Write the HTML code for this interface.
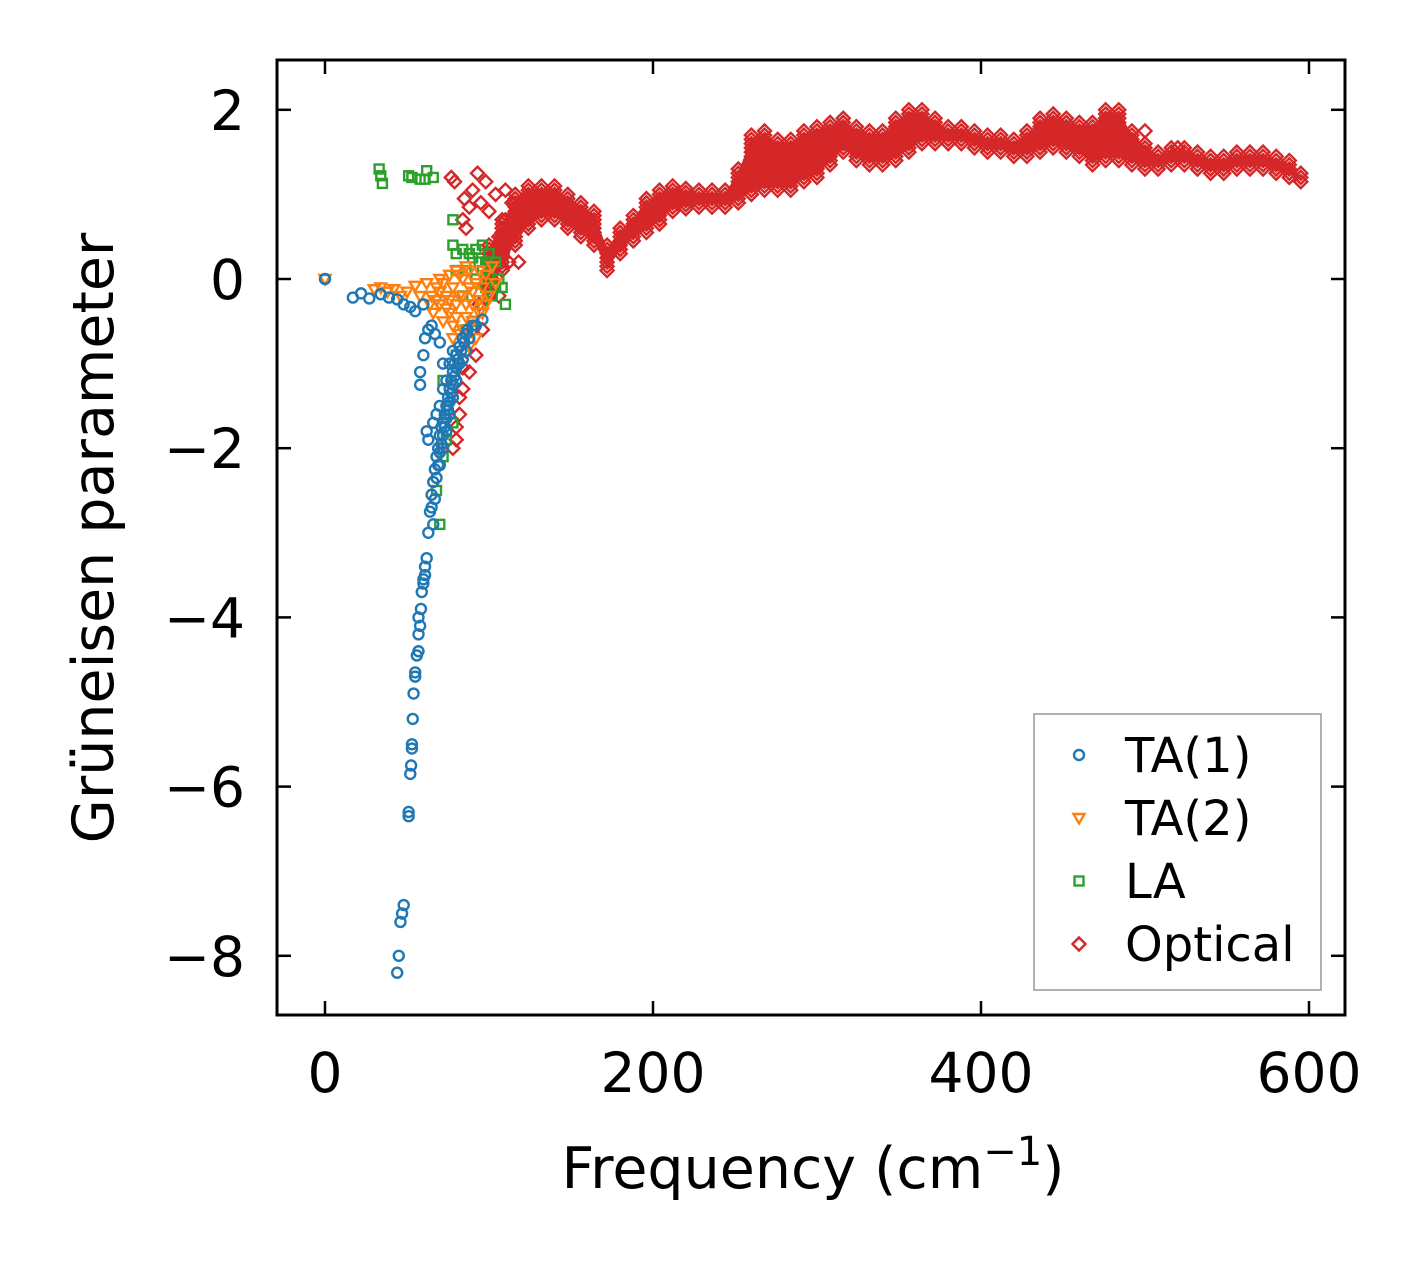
<!DOCTYPE html>
<html><head><meta charset="utf-8"><style>
html,body{margin:0;padding:0;background:#fff;}
svg{display:block;font-family:"DejaVu Sans","Liberation Sans",sans-serif;}
</style></head><body>
<svg id="chart" width="1424" height="1264" viewBox="0 0 1424 1264" xmlns="http://www.w3.org/2000/svg">
<g id="marks"></g>
<g id="axes"></g>
</svg>
<script>
// ---- data ----
const xTicks = [0, 200, 400, 600];
const yTicks = [2, 0, -2, -4, -6, -8];
const ta1 = [[0,0],[17,-0.22],[22,-0.17],[27,-0.23],[34,-0.18],[39,-0.22],[44,-0.24],[48,-0.3],[52,-0.33],[55,-0.38],[60,-0.3],
[44,-8.2],[45,-8.0],[46,-7.6],[47,-7.5],[48,-7.4],[51,-6.35],[52,-5.85],[52.5,-5.75],[53,-5.5],[53.5,-5.2],[54,-4.9],[55,-4.7],[56,-4.45],[57,-4.4],[58,-4.1],[58.5,-3.9],[59,-3.7],[60,-3.55],[61,-3.4],[62,-3.3],[63,-3.0],[64,-2.75],[65,-2.55],[66,-2.4],[67,-2.25],[68,-2.1],[69,-2.0],[70,-1.85],[71,-1.75],[72,-1.7],[73,-1.6],[74,-1.5],[75,-1.4],[76,-1.3],[77,-1.2],[78,-1.1],[79,-1.0],[80,-0.9],[82,-0.8],[84,-0.7],[86,-0.65],[88,-0.7],[92,-0.55],[96,-0.48],
[58,-1.1],[58,-1.25],[60,-0.9],[61,-0.7],[63,-0.6],[65,-0.55],[67,-0.65],[70,-0.75],[72,-1.0],[62,-1.8],[63,-1.9],[66,-1.7],[68,-1.6],[70,-1.5],[72,-1.3],[74,-1.2],[76,-1.0],[78,-0.85],[80,-1.2],[82,-1.0],[76,-1.6],[74,-1.8],[72,-2.0],[70,-2.2],[78,-1.4],[84,-0.95],[86,-0.85],
[65,-2.7],[66,-2.9],[67,-2.6],[68,-2.35],[69,-2.2],[70,-2.05],[71,-1.95],[72,-1.85],[73,-1.75],[74,-1.65],[75,-1.55],[76,-1.45],[77,-1.35],[78,-1.25],[79,-1.15],[80,-1.05],[81,-0.95],[83,-0.85],[85,-0.75],[87,-0.6],[90,-0.55],[60,-3.6],[61,-3.5],[57,-4.2],[57,-4.0],[55,-4.65],[53,-5.55],[51,-6.3]];
const ta2 = [[0,0],[30,-0.12],[34,-0.1],[38,-0.15],[42,-0.12],[46,-0.2],[50,-0.15],[55,-0.08],[58,-0.2],[62,-0.05],[65,-0.2],[68,-0.1],[70,-0.3],[72,-0.05],[74,-0.2],[76,-0.4],[78,-0.1],[80,-0.3],[82,0.05],[84,-0.2],[86,-0.45],[88,-0.1],[88,0.1],[90,-0.3],[92,-0.05],[94,-0.25],[96,-0.1],[98,0.05],[100,-0.2],[102,0.15],[104,-0.05],[66,-0.4],[72,-0.5],[78,-0.55],[84,-0.6],[90,-0.5],[96,-0.4],[80,0.1],[86,0.15],[94,0.1],[70,0.0],[76,0.05],[92,-0.7],[88,-0.8],
[64,-0.3],[68,-0.25],[74,-0.35],[80,-0.45],[82,-0.2],[86,-0.3],[90,-0.15],[94,-0.4],[98,-0.3],[70,-0.15],[76,-0.25],[84,0.0],[78,-0.7],[82,-0.65]];
const la = [[33,1.3],[34,1.22],[35,1.13],[51,1.22],[53,1.2],[58,1.18],[61,1.18],[62,1.28],[66,1.2],[78,0.7],[78,0.4],[80,0.3],[84,0.35],[88,0.3],[92,0.35],[96,0.4],[100,0.3],[104,0.2],[106,0.0],[108,-0.1],[110,-0.3],[98,-0.1],[102,-0.2],[80,0.1],[86,0.1],[94,0.2],[100,0.05],[96,-0.3],[90,-0.5],[86,-0.6],[80,-0.9],[72,-1.2],[75,-1.5],[72,-2.1],[68,-2.5],[70,-2.9],[74,-1.9],[78,-1.7],
[98,0.2],[100,0.15],[96,0.1],[92,0.0],[104,-0.1],[90,0.25],[84,-0.2]];
// rows: frequency, lower, centre, upper of the optical band
const optBand = [[100,-0.2,0.1,0.4],[108,0.1,0.4,0.7],[116,0.4,0.7,1.0],[124,0.6,0.85,1.1],[132,0.7,0.9,1.1],[140,0.7,0.9,1.1],[148,0.6,0.8,1.0],[156,0.5,0.7,0.9],[164,0.4,0.6,0.8],[172,0.1,0.25,0.4],[180,0.3,0.45,0.6],[188,0.45,0.6,0.75],[196,0.55,0.75,0.95],[204,0.65,0.85,1.05],[212,0.8,0.95,1.1],[220,0.83,0.95,1.07],[228,0.85,0.95,1.05],[236,0.85,0.95,1.05],[244,0.85,0.95,1.05],[252,0.9,1.1,1.3],[260,1.0,1.35,1.7],[268,1.05,1.4,1.75],[276,1.05,1.35,1.65],[284,1.05,1.35,1.65],[292,1.15,1.45,1.75],[300,1.2,1.5,1.8],[308,1.35,1.6,1.85],[316,1.5,1.7,1.9],[324,1.4,1.6,1.8],[332,1.35,1.55,1.75],[340,1.35,1.55,1.75],[348,1.4,1.65,1.9],[356,1.5,1.75,2.0],[364,1.6,1.8,2.0],[372,1.6,1.75,1.9],[380,1.6,1.7,1.8],[388,1.6,1.7,1.8],[396,1.55,1.65,1.75],[404,1.5,1.6,1.7],[412,1.5,1.6,1.7],[420,1.45,1.55,1.65],[428,1.45,1.6,1.75],[436,1.5,1.7,1.9],[444,1.55,1.75,1.95],[452,1.5,1.7,1.9],[460,1.45,1.65,1.85],[468,1.35,1.6,1.85],[476,1.4,1.7,2.0],[484,1.4,1.7,2.0],[492,1.35,1.55,1.75],[500,1.3,1.45,1.6],[508,1.3,1.4,1.5],[516,1.35,1.45,1.55],[524,1.35,1.45,1.55],[532,1.3,1.4,1.5],[540,1.25,1.35,1.45],[548,1.25,1.35,1.45],[556,1.3,1.4,1.5],[564,1.3,1.4,1.5],[572,1.3,1.4,1.5],[580,1.25,1.35,1.45],[588,1.2,1.3,1.4],[595,1.15,1.2,1.25]];
const optExtra = [[77,1.2],[79,1.15],[85,0.95],[88,0.85],[90,1.05],[93,1.25],[95,0.9],[98,1.15],[100,0.8],[86,0.6],[84,0.7],[104,1.0],[110,1.05],[103,0.3],[96,-0.6],[92,-0.9],[88,-1.1],[84,-1.3],[82,-1.6],[80,-1.9],[78,-2.0],[106,-0.2],[112,0.2],[118,0.2],[500,1.75],[520,1.55],
[94,-0.3],[98,-0.1],[90,-0.6],[86,-0.85],[84,-1.05],[82,-1.4],[80,-1.75],[102,0.0],[106,0.5],[110,0.7],[114,0.9]];
const legendLabels = ['TA(1)','TA(2)','LA','Optical'];
// ---- layout ----
const L=277,R=1345,T=60,B=1015;
const x = v => 325 + v*1.64;
const y = v => 279 - v*84.6;
const NS='http://www.w3.org/2000/svg';
const marks=document.getElementById('marks'), axes=document.getElementById('axes');
function mk(tag,parent,attrs){const e=document.createElementNS(NS,tag);for(const k in attrs)e.setAttribute(k,attrs[k]);parent.appendChild(e);return e;}
function marker(kind,cx,cy,parent,color){
  let e;
  if(kind==='o') e=mk('circle',parent,{cx:cx,cy:cy,r:5,fill:'none',stroke:color,'stroke-width':2.4});
  else if(kind==='v') e=mk('path',parent,{d:`M${cx-5.5},${cy-4}L${cx+5.5},${cy-4}L${cx},${cy+5.5}Z`,fill:'none',stroke:color,'stroke-width':2.4});
  else if(kind==='s') e=mk('rect',parent,{x:cx-4.5,y:cy-4.5,width:9,height:9,fill:'none',stroke:color,'stroke-width':2.4});
  else e=mk('path',parent,{d:`M${cx},${cy-6.5}L${cx+6.5},${cy}L${cx},${cy+6.5}L${cx-6.5},${cy}Z`,fill:'none',stroke:color,'stroke-width':2.4});
  return e;
}
const gOpt=mk('g',marks,{});  
// solid band fill derived from lower/upper edges
let dTop=optBand.map((r,i)=>(i?'L':'M')+x(r[0])+','+(y(r[3])+3)).join('');
let dBot=optBand.slice().reverse().map(r=>'L'+x(r[0])+','+(y(r[1])-3)).join('');
const band=mk('path',gOpt,{d:dTop+dBot+'Z',fill:'#d62728',stroke:'none'});


optBand.forEach(r=>{
  const lo=r[1],hi=r[3];
  const n=Math.max(2,Math.round((hi-lo)/0.05));
  for(let i=0;i<=n;i++){const e=marker('d',x(r[0]),y(lo+(hi-lo)*i/n),gOpt,'#d62728');
    
    }
});
optExtra.forEach(p=>{const e=marker('d',x(p[0]),y(p[1]),gOpt,'#d62728');
  
  });
const gLA=mk('g',marks,{});  
la.forEach(p=>{const e=marker('s',x(p[0]),y(p[1]),gLA,'#2ca02c');
  
  });
const gT2=mk('g',marks,{});  
ta2.forEach(p=>{const e=marker('v',x(p[0]),y(p[1]),gT2,'#ff7f0e');
  
  });
const gT1=mk('g',marks,{});  
ta1.forEach(p=>{const e=marker('o',x(p[0]),y(p[1]),gT1,'#1f77b4');
  
  });
// frame
const fr=mk('rect',axes,{x:L,y:T,width:R-L,height:B-T,fill:'none',stroke:'#000','stroke-width':3});


xTicks.forEach(v=>{
  mk('line',axes,{x1:x(v),x2:x(v),y1:B,y2:B-14,stroke:'#000','stroke-width':2.5});
  mk('line',axes,{x1:x(v),x2:x(v),y1:T,y2:T+14,stroke:'#000','stroke-width':2.5});
  const t=mk('text',axes,{x:x(v),y:1092,'text-anchor':'middle','font-size':55});
  t.textContent=String(v);
  
  
});
yTicks.forEach(v=>{
  mk('line',axes,{x1:L,x2:L+14,y1:y(v),y2:y(v),stroke:'#000','stroke-width':2.5});
  mk('line',axes,{x1:R,x2:R-14,y1:y(v),y2:y(v),stroke:'#000','stroke-width':2.5});
  const t=mk('text',axes,{x:245,y:y(v)+20,'text-anchor':'end','font-size':55});
  t.textContent=v<0?'\u2212'+Math.abs(v):String(v);
  
  
});
const xt=mk('text',axes,{x:813,y:1188,'text-anchor':'middle','font-size':57});
xt.innerHTML='Frequency (cm<tspan dy="-23" font-size="40">\u22121</tspan><tspan dy="23">)</tspan>';


const yt=mk('text',axes,{x:0,y:0,'text-anchor':'middle','font-size':57,transform:'translate(113,538) rotate(-90)'});
yt.textContent='Grüneisen parameter';


// legend
const lg=mk('g',axes,{});


mk('rect',lg,{x:1034,y:714,width:287,height:276,fill:'#fff',stroke:'#999','stroke-width':1.5});
const kinds=['o','v','s','d'], cols=['#1f77b4','#ff7f0e','#2ca02c','#d62728'];
legendLabels.forEach((lab,i)=>{
  const cy=755+i*63;
  const g=mk('g',lg,{});
  
  
  marker(kinds[i],1079,cy,g,cols[i]);
  const t=mk('text',g,{x:1125,y:cy+17,'font-size':48});
  t.textContent=lab;
});
</script>
</body></html>
